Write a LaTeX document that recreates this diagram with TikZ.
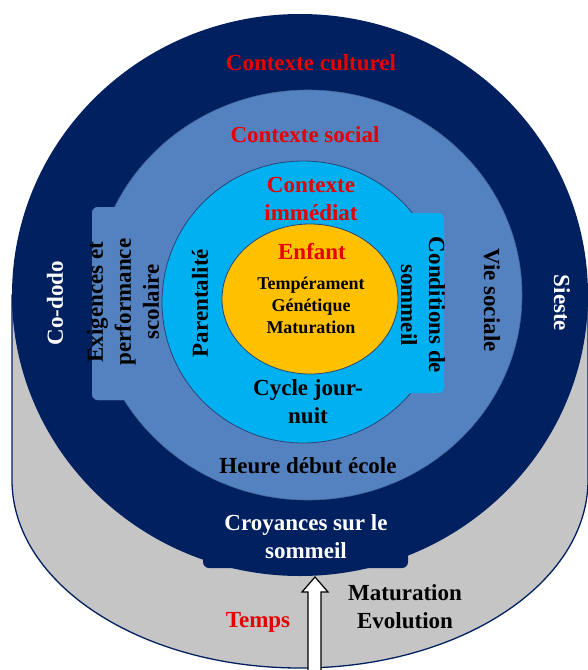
\documentclass[tikz,border=0pt]{standalone}
\usepackage{fontspec}
\setmainfont{Liberation Serif}
\definecolor{navy}{RGB}{0,32,96}
\definecolor{steel}{RGB}{84,130,192}
\definecolor{sky}{RGB}{0,176,240}
\definecolor{gold}{RGB}{255,192,0}
\definecolor{lgray}{RGB}{197,197,197}
\definecolor{rtext}{RGB}{230,0,0}
\definecolor{edge}{RGB}{40,70,120}
\begin{document}
\begin{tikzpicture}[x=1pt,y=-1pt,
  big/.style={font=\fontsize{23}{28}\selectfont\bfseries, align=center, inner sep=0pt},
  small/.style={font=\fontsize{18}{22}\selectfont\bfseries, align=center, inner sep=0pt},
  ]
\useasboundingbox (0,0) rectangle (587,670);
\fill[white] (0,0) rectangle (587,670);
% gray cylinder body
\filldraw[fill=lgray, draw=navy, line width=1.3pt]
  (12,295) -- (12,480) arc[start angle=180, end angle=0, x radius=288, y radius=188] -- (588,295) -- cycle;
% navy outer disc and tab
\fill[navy] (300,295) ellipse[x radius=288, y radius=281];
\fill[navy, rounded corners=6pt] (203,520) rectangle (408,568);
% steel blue ring and left tab
\fill[steel, rounded corners=6pt] (92,207) rectangle (150,400);
\filldraw[fill=steel, draw=steel!80!black, line width=0.6pt] (308,295) ellipse[x radius=214, y radius=205];
\fill[steel, rounded corners=6pt] (92,207) rectangle (150,400);
% light blue disc and right tab
\filldraw[fill=sky, draw=edge, line width=0.8pt] (303,302) circle[radius=141];
\fill[sky, rounded corners=5pt] (400,213) rectangle (444,393);
% orange core
\filldraw[fill=gold, draw=edge, line width=0.8pt] (310,299) ellipse[x radius=88, y radius=75];
% arrow
\filldraw[fill=white, draw=black, line width=1.2pt]
  (308,675) -- (308,592) -- (302,592) -- (315,577) -- (328,592) -- (321,592) -- (321,675) -- cycle;
% texts
\node[big, text=rtext] (cult) at (311,63) {Contexte culturel};
\node[big, text=rtext] (soc) at (305,135) {Contexte social};
\node[big, text=rtext] (imm) at (311,199) {Contexte\\immédiat};
\node[big, text=rtext] (enf) at (312,252) {Enfant};
\node[small] (tgm) at (311,305) {Tempérament\\Génétique\\Maturation};
\node[big] (cyc) at (308,402) {Cycle jour-\\nuit};
\node[big] (heure) at (308,466) {Heure début école};
\node[big, text=white] (croy) at (306,537) {Croyances sur le\\sommeil};
\node[big, text=rtext] (temps) at (258,622) {Temps};
\node[big] (matev) at (405,607) {Maturation\\Evolution};
\node[big, text=white, rotate=90] (codo) at (55,303) {Co-dodo};
\node[big, rotate=90] (exig) at (123,302) {Exigences et\\performance\\scolaire};
\node[big, rotate=90] (par) at (200,303) {Parentalité};
\node[big, rotate=-90] (cond) at (423,305) {Conditions de\\sommeil};
\node[big, rotate=-90] (vie) at (492,300) {Vie sociale};
\node[big, text=white, rotate=-90] (sieste) at (562,303) {Sieste};
\end{tikzpicture}
\end{document}
